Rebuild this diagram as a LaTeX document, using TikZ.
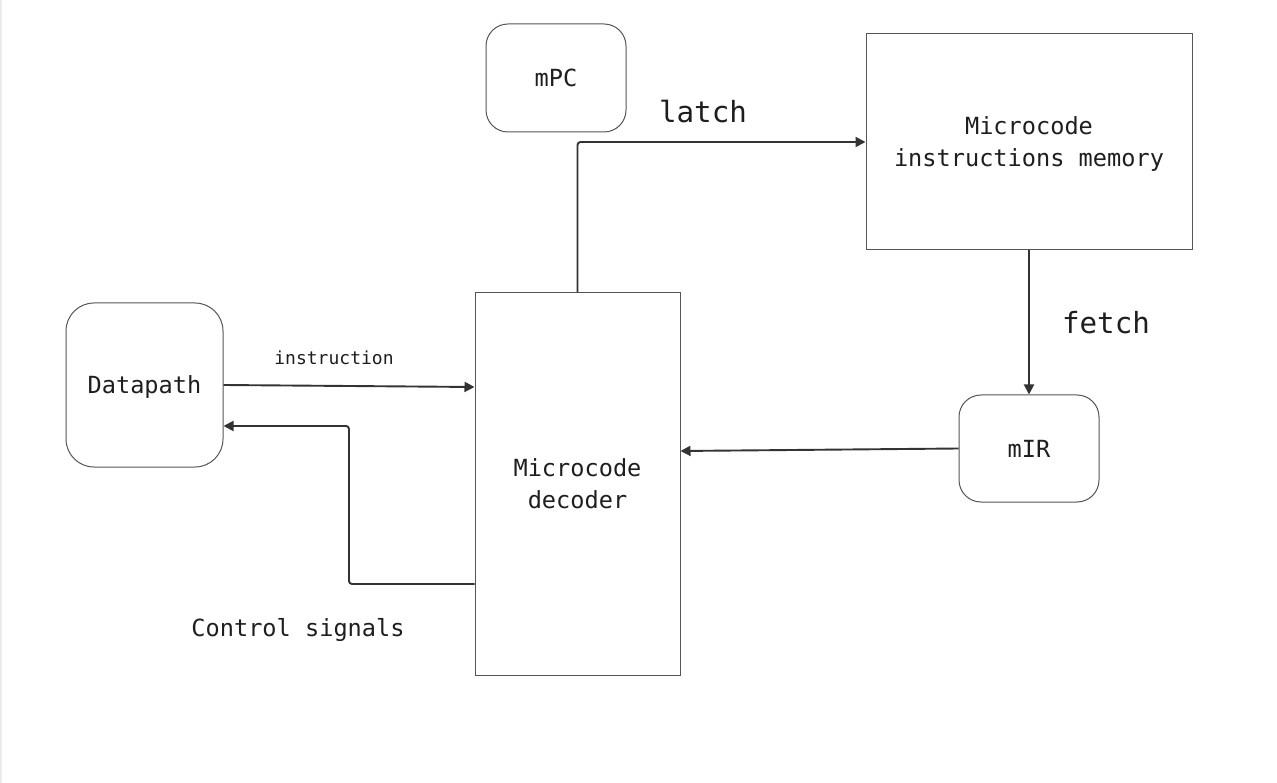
\documentclass[tikz,border=0pt]{standalone}
\usepackage{fontspec}
\setmainfont{DejaVu Sans Mono}
\usetikzlibrary{arrows.meta,positioning}

\definecolor{ink}{HTML}{1E1E1E}
\definecolor{edge}{HTML}{555555}
\definecolor{wire}{HTML}{333333}

\begin{document}
\begin{tikzpicture}[x=1pt,y=-1pt]
\tikzstyle{every node}+=[inner sep=0pt, text depth=0pt, text=ink, align=center, font=\fontsize{23.6}{32}\selectfont]
\tikzstyle{box}=[draw=edge, line width=1pt]
\tikzstyle{rbox}=[box, rounded corners=22pt]
\tikzstyle{arr}=[draw=wire, line width=1.9pt, -{Triangle[length=10pt,width=10pt]}]
\useasboundingbox (0,0) rectangle (1277,783);
\draw [black!8, line width=1.5pt] (0.75,0) -- (0.75,783);
\node [rbox, minimum width=140pt, minimum height=108pt] (mpc) at (556,78) {mPC};
\node [box, minimum width=326pt, minimum height=216pt] (mem) at (1029,142) {Microcode\\instructions memory};
\node [rbox, rounded corners=28pt, minimum width=157pt, minimum height=164pt] (dp) at (144.5,385) {Datapath};
\node [box, minimum width=205pt, minimum height=382pt] (dec) at (577.5,484) {Microcode\\decoder};
\node [rbox, minimum width=140pt, minimum height=107pt] (mir) at (1029,448.5) {mIR};
\coordinate (ctl) at (349,584);
\draw [arr, rounded corners=3pt] (dec.north) |- (mem.west);
\node (latch) at (703,111) {\fontsize{29.2}{32}\selectfont latch};
\draw [arr] (mem.south) -- (mir.north);
\node (fetch) at (1106,322) {\fontsize{29.2}{32}\selectfont fetch};
\draw [arr] (dp.east) -- (dec.west |- 0,387);
\node (instr) at (334,358) {\fontsize{18}{20}\selectfont instruction};
\draw [arr] (mir.west) -- (dec.east |- 0,451);
\draw [arr, rounded corners=3pt] (dec.west |- ctl) -- (ctl) |- (dp.east |- 0,426);
\node (ctlsig) at (298,627) {Control signals};
\end{tikzpicture}
\end{document}
